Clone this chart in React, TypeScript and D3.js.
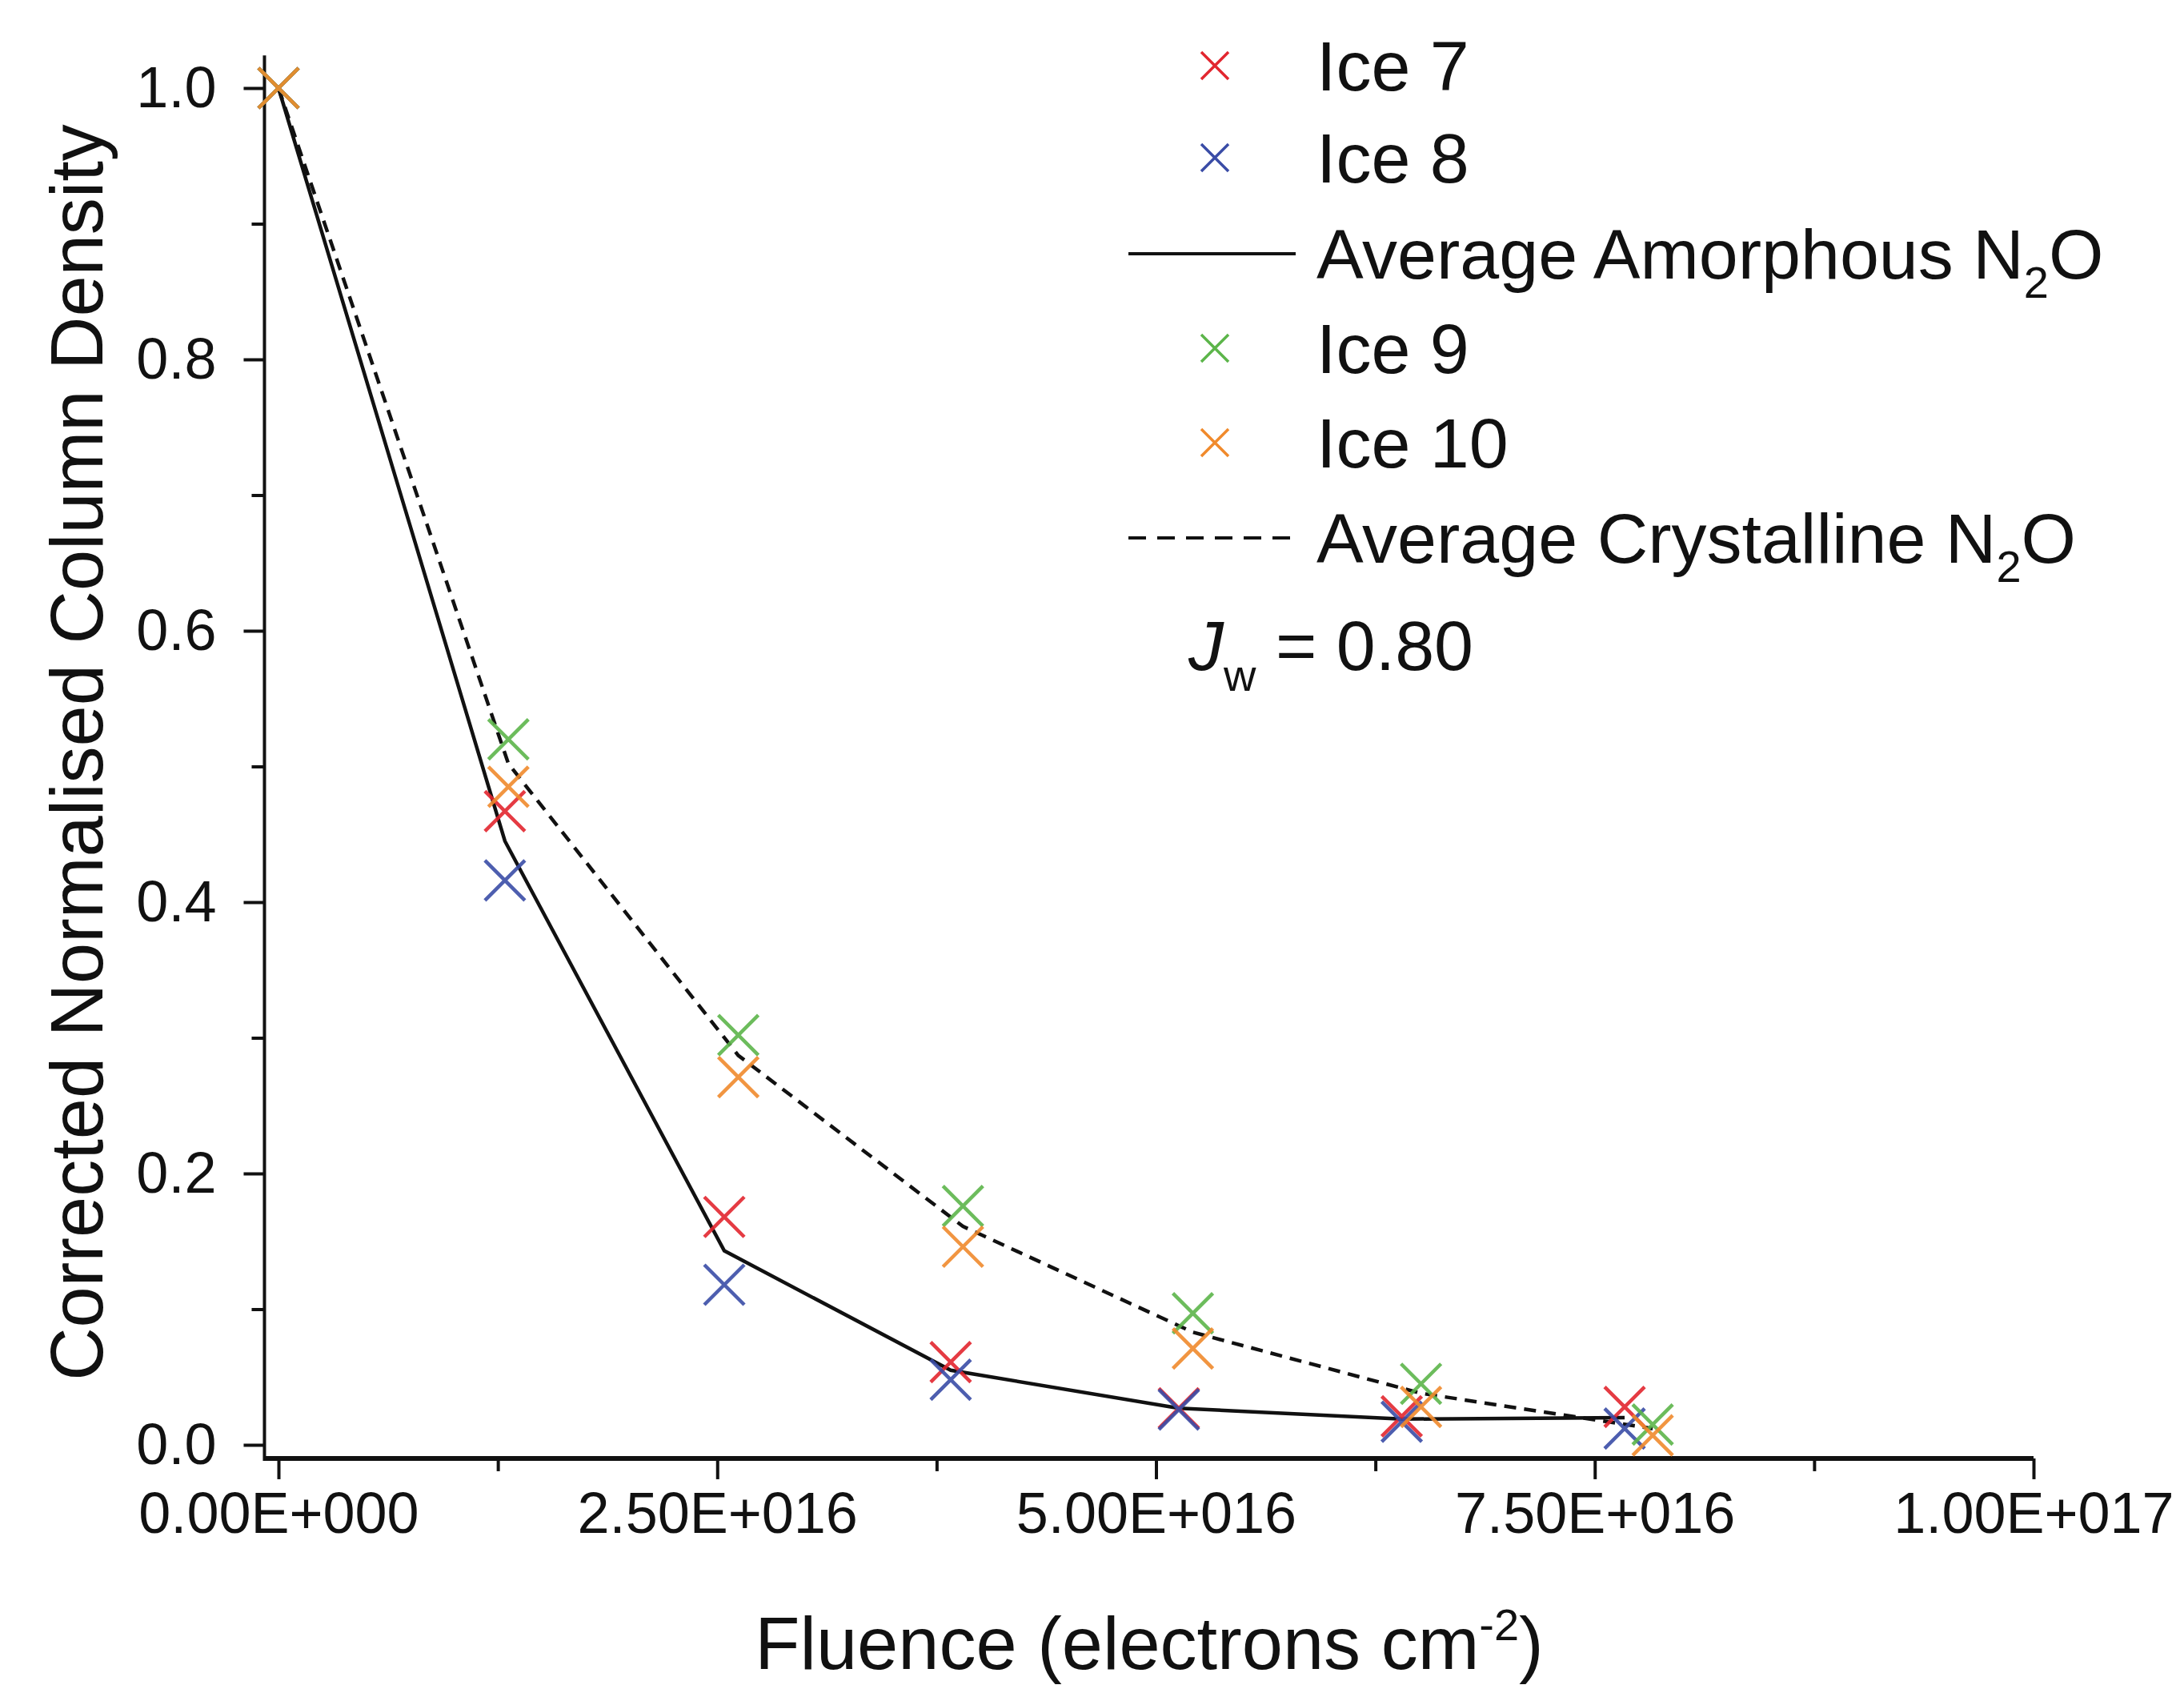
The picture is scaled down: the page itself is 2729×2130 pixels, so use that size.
import React, { useRef, useEffect } from "react";
import * as d3 from "d3";

// fluence values (electrons cm^-2) for the two sets of runs
const fluenceAmorph = [0, 1.29e16, 2.54e16, 3.83e16, 5.13e16, 6.4e16, 7.67e16];
const fluenceCryst = [0, 1.31e16, 2.62e16, 3.9e16, 5.21e16, 6.51e16, 7.83e16];

// corrected normalised column density
const ice7 = [1.0, 0.467, 0.168, 0.061, 0.027, 0.021, 0.028];
const ice8 = [1.0, 0.416, 0.118, 0.048, 0.026, 0.017, 0.012];
const ice9 = [1.0, 0.52, 0.302, 0.176, 0.097, 0.045, 0.015];
const ice10 = [1.0, 0.485, 0.271, 0.146, 0.071, 0.028, 0.007];
const avgAmorph = [1.0, 0.445, 0.143, 0.055, 0.027, 0.019, 0.02];
const avgCryst = [1.0, 0.502, 0.287, 0.161, 0.083, 0.038, 0.012];

const xTicks = [0, 2.5e16, 5e16, 7.5e16, 1e17];
const xTickLabels = ["0.00E+000", "2.50E+016", "5.00E+016", "7.50E+016", "1.00E+017"];
const xMinor = [1.25e16, 3.75e16, 6.25e16, 8.75e16];
const yTicks = [0, 0.2, 0.4, 0.6, 0.8, 1.0];
const yMinor = [0.1, 0.3, 0.5, 0.7, 0.9];

const W = 2729;
const H = 2130;
const FONT = "'Liberation Sans', Arial, Helvetica, sans-serif";

const App = () => {
  const ref = useRef<SVGSVGElement>(null);

  useEffect(() => {
    const svg = d3.select(ref.current);
    svg.selectAll("*").remove();

    const x = d3.scaleLinear().domain([0, 1e17]).range([348, 2541]);
    const y = d3.scaleLinear().domain([0, 1]).range([1805, 110]);

    const x0 = x(-0.08e16);
    const yBase = y(-0.01);

    // axis lines
    svg.append("line")
      .attr("x1", x0).attr("x2", x(1e17))
      .attr("y1", yBase).attr("y2", yBase)
      .attr("stroke", "#111").attr("stroke-width", 6);
    svg.append("line")
      .attr("x1", x0).attr("x2", x0)
      .attr("y1", yBase + 3).attr("y2", y(1.024))
      .attr("stroke", "#111").attr("stroke-width", 4);

    // x ticks
    const gx = svg.append("g").attr("transform", `translate(0,${yBase})`)
      .call(d3.axisBottom(x).tickValues(xTicks).tickSize(26).tickPadding(16)
        .tickFormat((d, i) => xTickLabels[i]));
    const gxm = svg.append("g").attr("transform", `translate(0,${yBase})`)
      .call(d3.axisBottom(x).tickValues(xMinor).tickSize(16).tickFormat(() => ""));

    // y ticks
    const gy = svg.append("g").attr("transform", `translate(${x0},0)`)
      .call(d3.axisLeft(y).tickValues(yTicks).tickSize(26).tickPadding(34)
        .tickFormat(d3.format(".1f")));
    const gym = svg.append("g").attr("transform", `translate(${x0},0)`)
      .call(d3.axisLeft(y).tickValues(yMinor).tickSize(16).tickFormat(() => ""));

    [gx, gxm, gy, gym].forEach(g => {
      g.select(".domain").remove();
      g.selectAll("line").attr("stroke", "#111").attr("stroke-width", 4);
      g.selectAll("text")
        .attr("font-family", FONT)
        .attr("font-size", 72)
        .attr("fill", "#111");
    });

    // lines
    const line = d3.line<[number, number]>().x(d => x(d[0])).y(d => y(d[1]));
    svg.append("path")
      .attr("d", line(fluenceAmorph.map((f, i) => [f, avgAmorph[i]] as [number, number])))
      .attr("fill", "none").attr("stroke", "#111").attr("stroke-width", 4.5);
    svg.append("path")
      .attr("d", line(fluenceCryst.map((f, i) => [f, avgCryst[i]] as [number, number])))
      .attr("fill", "none").attr("stroke", "#111").attr("stroke-width", 4.5)
      .attr("stroke-dasharray", "15,10");

    const cross = (h: number) => `M${-h},${-h}L${h},${h}M${-h},${h}L${h},${-h}`;

    const series = [
      { vals: ice7, fl: fluenceAmorph, color: "#e2262f" },
      { vals: ice8, fl: fluenceAmorph, color: "#3a4ca6" },
      { vals: ice9, fl: fluenceCryst, color: "#5cb54a" },
      { vals: ice10, fl: fluenceCryst, color: "#f08a2c" },
    ];

    series.forEach(s => {
      svg.append("g")
        .selectAll("path")
        .data(s.vals)
        .join("path")
        .attr("transform", (d, i) => `translate(${x(s.fl[i])},${y(d)})`)
        .attr("d", cross(25))
        .attr("fill", "none")
        .attr("stroke", s.color)
        .attr("stroke-width", 4.5)
        .attr("opacity", 0.9);
    });

    // axis titles
    svg.append("text")
      .attr("transform", "translate(96,940) rotate(-90)")
      .attr("text-anchor", "middle")
      .attr("dominant-baseline", "central")
      .attr("font-family", FONT).attr("font-size", 92).attr("fill", "#111")
      .text("Corrected Normalised Column Density");

    const xt = svg.append("text")
      .attr("x", 1436).attr("y", 2085)
      .attr("text-anchor", "middle")
      .attr("font-family", FONT).attr("font-size", 92).attr("fill", "#111");
    xt.append("tspan").text("Fluence (electrons cm");
    xt.append("tspan").attr("dy", -36).attr("font-size", 56).text("-2");
    xt.append("tspan").attr("dy", 36).text(")");

    // legend
    const legend = [
      { label: "Ice 7", color: "#e2262f", kind: "marker" },
      { label: "Ice 8", color: "#3a4ca6", kind: "marker" },
      { label: "Average Amorphous N", color: "#111", kind: "solid" },
      { label: "Ice 9", color: "#5cb54a", kind: "marker" },
      { label: "Ice 10", color: "#f08a2c", kind: "marker" },
      { label: "Average Crystalline N", color: "#111", kind: "dashed" },
    ];
    const rowY = [82, 197, 317, 435, 553, 672];

    legend.forEach((l, i) => {
      const g = svg.append("g").attr("transform", `translate(0,${rowY[i]})`);
      if (l.kind === "marker") {
        g.append("path")
          .attr("transform", "translate(1518,0)")
          .attr("d", cross(17))
          .attr("fill", "none").attr("stroke", l.color).attr("stroke-width", 3.5);
      } else {
        g.append("line")
          .attr("x1", 1410).attr("x2", 1619)
          .attr("stroke", "#111").attr("stroke-width", 4)
          .attr("stroke-dasharray", l.kind === "dashed" ? "22,14" : null);
      }
      const t = g.append("text")
        .attr("x", 1645).attr("y", 31)
        .attr("font-family", FONT).attr("font-size", 88).attr("fill", "#111");
      t.append("tspan").text(l.label);
      if (l.kind !== "marker") {
        t.append("tspan").attr("dy", 24).attr("font-size", 56).text("2");
        t.append("tspan").attr("dy", -24).text("O");
      }
    });

    const jw = svg.append("text")
      .attr("x", 1485).attr("y", 837)
      .attr("font-family", FONT).attr("font-size", 88).attr("fill", "#111");
    jw.append("tspan").attr("font-style", "italic").text("J");
    jw.append("tspan").attr("dy", 26).attr("font-size", 56).text("w");
    jw.append("tspan").attr("dy", -26).text(" = 0.80");
  }, []);

  return (
    <svg
      ref={ref}
      width={W}
      height={H}
      style={{ position: "absolute", left: 0, top: 0, background: "#fff" }}
    />
  );
};

export default App;
